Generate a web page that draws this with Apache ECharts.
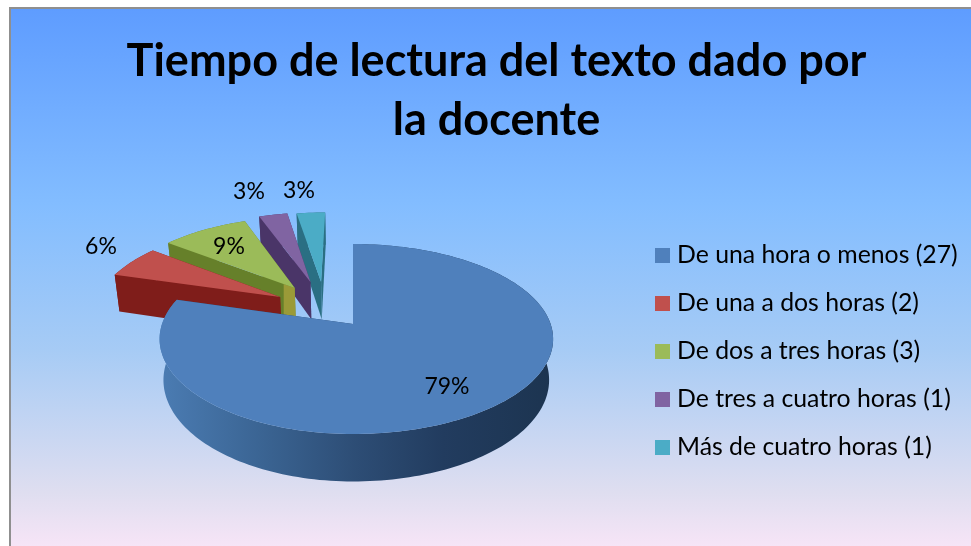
<!DOCTYPE html>
<html>
<head>
<meta charset="utf-8">
<style>
html, body { margin: 0; padding: 0; background: #fff; }
#chart { width: 971px; height: 546px; }
</style>
<script src="https://cdn.jsdelivr.net/npm/echarts@6/dist/echarts.min.js"></script>
</head>
<body>
<div id="chart"></div>
<script>
// datos
const titleText = 'Tiempo de lectura del texto dado por\nla docente';
const categories = ['De una hora o menos (27)', 'De una a dos horas (2)', 'De dos a tres horas (3)', 'De tres a cuatro horas (1)', 'Más de cuatro horas (1)'];
const values = [27, 2, 3, 1, 1];

// estilo de cada porción: tapa, pared, separación y sitio de la etiqueta
const topColors = ['#4f80bc', '#c0504d', '#9bbb59', '#8064a2', '#4bacc6'];
const wallColors = ['#27466b', '#7f1d1a', '#66802a', '#4a3568', '#2a6f83'];
const explode = [[0, 0], [-0.40, 0.306], [-0.325, 0.414], [-0.24, 0.488], [-0.18, 0.488]];
const labelPos = [[447, 387], [101, 247], [229, 247], [249, 192], [299, 191]];

const FONT = 'Lato, "Noto Sans", sans-serif';
const total = values.reduce((a, b) => a + b, 0);

// proyección del disco (u, v) a la pantalla, con algo de perspectiva
const tip = [353, 324];
const persp = 0.158, ry = 92.6, rxRight = 197.6, rxLeft = 191, depth = 40;
function project(u, v, low) {
    const d = 1 + persp * v;
    const rx = u > 0 ? rxRight : rxLeft;
    let x = tip[0] + rx * u / d;
    let y = tip[1] - ry * v / d;
    if (low) {
        x = tip[0] + (x - tip[0]) * 0.98;
        y += depth / d;
    }
    return [x, y];
}

function buildSlice(i) {
    const before = values.slice(0, i).reduce((a, b) => a + b, 0);
    const a0 = before / total * Math.PI * 2;
    const a1 = (before + values[i]) / total * Math.PI * 2;
    const [ex, ev] = explode[i];
    const steps = Math.max(6, Math.round((a1 - a0) * 40));
    const rim = [];
    for (let s = 0; s <= steps; s++) {
        const a = a0 + (a1 - a0) * s / steps;
        rim.push([ex + Math.sin(a), ev + Math.cos(a)]);
    }
    const up = p => project(p[0], p[1], false);
    const down = p => project(p[0], p[1], true);
    const center = [ex, ev];
    const first = rim[0], last = rim[rim.length - 1];
    const outerFill = i === 0 ? {
        type: 'linear', x: 0, y: 0, x2: 1, y2: 0,
        colorStops: [
            { offset: 0, color: '#4b7cb3' },
            { offset: 0.25, color: '#3b6594' },
            { offset: 0.5, color: '#2d4d75' },
            { offset: 0.72, color: '#223c5f' },
            { offset: 1, color: '#1c3450' }
        ]
    } : wallColors[i];
    // la verde tiene un tramo oliva junto a la punta
    const frontFill = i === 2 ? {
        type: 'linear', x: 0, y: 0, x2: 1, y2: 0,
        colorStops: [
            { offset: 0, color: wallColors[2] },
            { offset: 0.9, color: wallColors[2] },
            { offset: 0.91, color: '#9a9a38' },
            { offset: 1, color: '#9a9a38' }
        ]
    } : wallColors[i];
    const children = [
        {
            type: 'polygon',
            shape: { points: rim.map(up).concat(rim.slice().reverse().map(down)) },
            style: { fill: outerFill }
        },
        {
            type: 'polygon',
            shape: { points: [up(center), up(last), down(last), down(center)] },
            style: { fill: wallColors[i] }
        },
        {
            type: 'polygon',
            shape: { points: [up(center), up(first), down(first), down(center)] },
            style: { fill: frontFill }
        },
        {
            type: 'polygon',
            shape: { points: [up(center)].concat(rim.map(up)) },
            style: { fill: topColors[i] }
        },
        {
            type: 'text',
            z2: 100,
            style: {
                x: labelPos[i][0], y: labelPos[i][1],
                text: Math.round(values[i] / total * 100) + '%',
                fill: '#000', font: '23px ' + FONT,
                align: 'center', verticalAlign: 'middle'
            }
        }
    ];
    return { type: 'group', children };
}

const chart = echarts.init(document.getElementById('chart'));
chart.setOption({
    animation: false,
    graphic: [{
        type: 'rect',
        z: -10,
        shape: { x: 10, y: 8, width: 975, height: 550 },
        style: {
            stroke: '#8f8f8f', lineWidth: 2,
            fill: {
                type: 'linear', x: 0, y: 0, x2: 0, y2: 1,
                colorStops: [
                    { offset: 0, color: '#5e9cff' },
                    { offset: 0.36, color: '#83bdff' },
                    { offset: 0.62, color: '#a6cbf5' },
                    { offset: 0.88, color: '#dfdef0' },
                    { offset: 1, color: '#fce6f8' }
                ]
            }
        }
    }],
    title: {
        text: titleText,
        left: 491.5, top: 26.5, textAlign: 'center',
        textStyle: { fontFamily: FONT, fontSize: 45, fontWeight: 'bold', color: '#000', lineHeight: 59 }
    },
    legend: {
        orient: 'vertical',
        left: 655, top: 243, padding: 0,
        itemWidth: 15, itemHeight: 15, itemGap: 23,
        icon: 'rect',
        data: categories,
        textStyle: { fontFamily: FONT, fontSize: 24.8, color: '#000', padding: [0, 0, 0, 2], lineHeight: 23 }
    },
    // una serie por porción, para que la leyenda las tome; la azul va encima
    series: categories.map((name, i) => ({
        type: 'custom',
        name,
        coordinateSystem: 'none',
        silent: true,
        z: i === 0 ? 10 : 6 - i,
        itemStyle: { color: topColors[i] },
        data: [[values[i]]],
        renderItem: () => buildSlice(i)
    }))
});
</script>
</body>
</html>
